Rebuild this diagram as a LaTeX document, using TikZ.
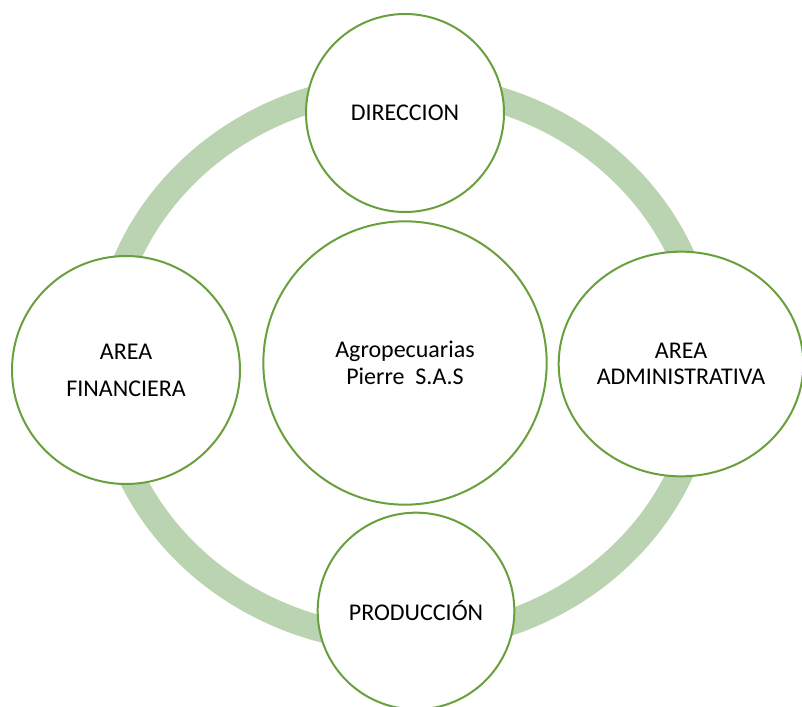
\documentclass[tikz,border=0pt]{standalone}
\usepackage{fontspec}
\setmainfont{Carlito}
\usetikzlibrary{shapes.geometric}
\definecolor{ringgreen}{HTML}{BAD4B1}
\definecolor{edgegreen}{HTML}{6A9F3E}

\begin{document}
\begin{tikzpicture}[x=0.75pt,y=-0.75pt,
    unit/.style={circle,draw=edgegreen,line width=1.5pt,fill=white,align=center,
        inner sep=0pt,font=\fontsize{18}{20}\selectfont}]

    \useasboundingbox (0,0) rectangle (802,706);
    \clip (0,0) rectangle (802,706);

    % ring behind the units
    \draw[ringgreen,line width=19.5pt] (405,363) ellipse [x radius=300, y radius=277];

    % centre
    \node[unit,minimum size=212.5pt] (firm) at (405,363) {Agropecuarias\\Pierre\ \ S.A.S};

    % units round the ring
    \node[unit,minimum size=148.5pt] (dir) at (405,113) {DIRECCION};
    \node[unit,minimum size=171pt] (fin) at (126,370) {AREA\\[7.75pt]FINANCIERA};
    \node[unit,ellipse,minimum width=183.5pt,minimum height=168.5pt] (adm) at (681,364) {AREA\\ADMINISTRATIVA};
    \node[unit,minimum size=147.5pt] (prod) at (416,611) {PRODUCCIÓN};

\end{tikzpicture}
\end{document}
